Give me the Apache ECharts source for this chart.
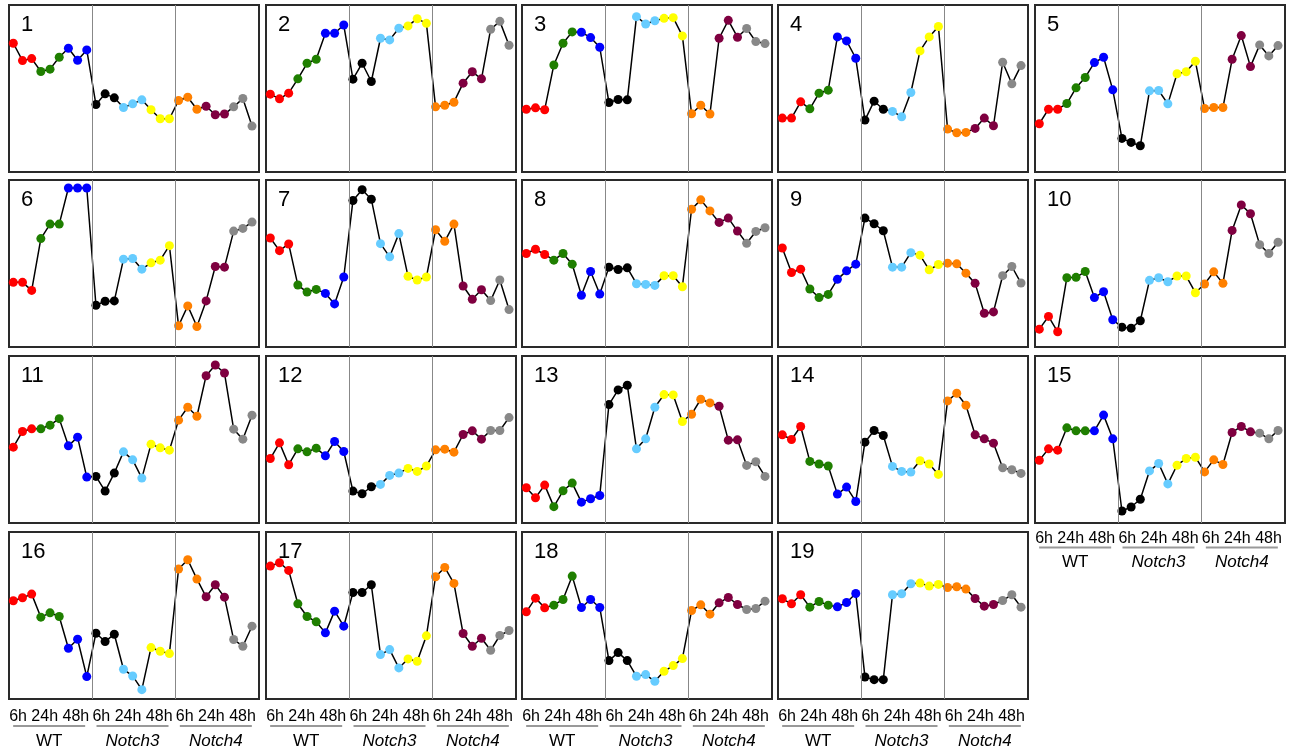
<!DOCTYPE html>
<html>
<head>
<meta charset="utf-8">
<script src="https://cdn.jsdelivr.net/npm/echarts@6/dist/echarts.min.js"></script>
<style>
html,body{margin:0;padding:0;background:#fff;}
#chart{width:1291px;height:754px;}
</style>
</head>
<body>
<div id="chart"></div>
<script>
// ---- data ----
const timepoints = ['6h', '24h', '48h'];
const groups = ['WT', 'Notch3', 'Notch4'];
const panelNames = ['1','2','3','4','5','6','7','8','9','10','11','12','13','14','15','16','17','18','19'];
// 27 values per panel: WT (red, green, blue), Notch3 (black, light blue, yellow), Notch4 (orange, maroon, gray), 3 timepoints each
const p1  = [77.1,66.7,67.9, 60.2,61.6,68.7, 74.1,66.9,73.1, 40.4,46.8,44.4, 38.6,40.8,43.2, 37.3,31.9,31.9, 42.8,44.8,37.6, 39.4,34.3,34.7, 39.0,44.0,27.5];
const p2  = [46.6,43.8,47.2, 55.8,65.1,67.5, 83.1,83.1,88.0, 55.6,65.1,54.2, 80.1,79.1,86.1, 87.5,91.8,89.0, 39.0,40.0,41.8, 53.2,60.0,55.8, 85.5,90.2,75.9];
const p3  = [37.6,38.4,37.3, 64.1,77.1,83.9, 83.7,80.5,74.7, 41.6,43.4,43.2, 93.0,88.6,90.6, 92.0,92.4,81.5, 34.9,40.0,34.7, 80.1,90.8,80.7, 85.9,78.1,76.9];
const p4  = [32.3,32.3,42.0, 37.8,47.2,49.0, 80.9,78.5,68.1, 31.1,42.4,37.6, 36.3,33.1,47.6, 72.5,80.9,87.1, 25.7,23.5,23.7, 26.1,32.3,27.7, 65.7,52.8,63.7];
const p5  = [28.9,37.6,37.6, 41.0,50.4,56.6, 65.5,68.7,49.2, 20.1,17.7,15.7, 48.6,48.8,40.8, 58.8,60.0,66.3, 38.0,38.6,38.6, 67.5,81.7,63.1, 76.1,69.5,75.7];
const p6  = [38.7,38.7,33.9, 64.9,73.6,73.6, 95.2,95.2,95.2, 25.0,27.4,27.6, 52.6,53.0,46.6, 50.4,52.0,60.7, 12.7,24.6,12.3, 27.6,48.2,47.8, 69.4,71.0,74.8];
const p7  = [65.3,57.7,61.7, 37.1,32.9,34.5, 32.1,25.8,41.9, 87.7,94.2,88.5, 61.9,54.0,67.9, 42.3,40.1,41.9, 70.2,63.3,73.6, 36.5,28.6,34.3, 27.8,40.1,22.4];
const p8  = [56.0,58.5,55.4, 52.0,56.0,49.6, 31.0,45.2,31.7, 47.8,46.4,47.4, 37.9,37.5,36.9, 42.7,42.7,36.1, 82.5,88.1,81.5, 74.6,77.2,69.4, 62.1,69.2,71.4];
const p9  = [59.3,44.6,46.6, 34.7,29.6,31.5, 40.5,45.6,49.6, 77.2,73.8,69.6, 47.8,47.8,56.5, 55.0,46.2,49.4, 50.2,49.8,44.2, 38.1,20.2,21.0, 42.7,48.2,38.3];
const p10 = [10.7,18.3,9.1, 41.5,41.7,45.2, 29.6,33.1,16.3, 11.9,11.3,15.7, 39.9,41.5,39.1, 42.5,42.5,32.5, 37.7,45.0,38.1, 69.8,85.1,79.8, 61.3,56.0,62.7];
const p11 = [45.4,54.8,56.4, 56.4,58.6,62.5, 46.2,51.4,27.5, 27.9,19.1,29.9, 42.6,37.8,26.9, 47.2,45.0,43.6, 61.6,69.3,63.9, 88.2,94.6,89.8, 56.2,50.2,64.5];
const p12 = [38.6,48.0,34.9, 44.4,42.6,44.8, 40.2,48.8,42.8, 19.1,17.5,21.7, 23.1,28.5,29.9, 32.7,30.9,34.1, 43.8,44.2,42.4, 53.0,55.2,50.2, 55.4,55.4,63.1];
const p13 = [21.1,15.1,22.7, 9.8,19.3,23.9, 12.5,14.5,16.5, 70.9,79.7,82.5, 44.4,50.4,69.3, 76.9,76.7,60.8, 65.1,74.1,71.9, 69.9,49.6,49.8, 34.5,36.7,27.9];
const p14 = [52.8,50.0,57.8, 36.9,35.3,34.1, 17.3,21.5,12.9, 48.4,55.4,52.4, 33.9,30.9,30.5, 37.3,35.3,29.1, 73.1,77.7,70.5, 52.8,50.4,47.8, 33.1,31.9,29.7];
const p15 = [37.6,44.4,43.6, 57.0,55.2,55.2, 55.2,64.6,50.4, 7.2,9.6,14.2, 31.2,35.6,23.4, 34.6,38.6,39.4, 30.6,37.8,35.0, 54.2,57.8,54.6, 53.8,50.4,55.4];
const p16 = [58.8,60.6,62.8, 49.0,51.6,49.4, 30.4,35.8,13.4, 39.4,34.4,38.8, 17.8,13.8,5.6, 30.8,28.6,27.2, 77.8,83.4,71.8, 61.2,68.4,61.0, 35.6,31.6,43.6];
const p17 = [79.6,81.6,77.0, 57.0,49.4,46.2, 39.6,52.6,43.6, 63.8,63.8,68.4, 26.6,29.6,18.6, 24.0,22.6,37.8, 73.2,78.8,69.2, 39.2,31.6,36.4, 29.2,38.0,41.0];
const p18 = [52.2,60.4,54.6, 56.2,59.6,73.6, 54.8,59.6,54.8, 23.0,27.8,23.0, 13.6,14.6,10.6, 16.6,20.0,24.2, 53.0,56.4,50.8, 57.6,60.8,56.6, 53.6,54.2,58.6];
const p19 = [60.0,57.0,62.4, 55.0,58.4,56.2, 55.2,57.8,63.2, 13.2,11.6,11.6, 62.4,63.0,69.0, 69.4,67.6,68.6, 66.8,67.2,65.8, 60.2,55.6,56.6, 59.0,62.4,55.0];
const panels = [p1,p2,p3,p4,p5,p6,p7,p8,p9,p10,p11,p12,p13,p14,p15,p16,p17,p18,p19];

// ---- styles / layout ----
const condColors = ['#ff0000','#1f7f00','#0000ff','#000000','#66ccff','#ffff00','#ff8000','#7f0040','#888888'];
const colLeft = [9, 266, 522, 778, 1035];
const rowTop = [5, 180, 356, 532];
const PW = 250, PH = 167;
const XMIN = -0.47, XMAX = 26.76;
const labelledPanels = {14: [16, 24.5, 39], 15: [17.5, 27, 42], 16: [17.5, 27, 42], 17: [17.5, 27, 42], 18: [17.5, 27, 42]};
const FONT = '"Liberation Sans", Arial, Helvetica, sans-serif';

const grids = [], xAxes = [], yAxes = [], series = [], graphics = [];
const div1 = XMIN + (XMAX - XMIN) / 3, div2 = XMIN + 2 * (XMAX - XMIN) / 3;

panels.forEach((vals, i) => {
  const left = colLeft[i % 5], top = rowTop[Math.floor(i / 5)];
  grids.push({left: left, top: top, width: PW, height: PH, show: true, borderColor: '#2a2a2a', borderWidth: 2, backgroundColor: '#fff', containLabel: false});
  xAxes.push({type: 'value', gridIndex: i, min: XMIN, max: XMAX, show: false});
  yAxes.push({type: 'value', gridIndex: i, min: 0, max: 100, show: false});
  series.push({
    type: 'line', xAxisIndex: i, yAxisIndex: i,
    data: vals.map((v, j) => [j, v]),
    symbol: 'circle', symbolSize: 9,
    lineStyle: {color: '#000', width: 1.5},
    itemStyle: {color: p => condColors[Math.floor(p.dataIndex / 3)]},
    emphasis: {disabled: true},
    z: 3,
    markLine: {
      silent: true, symbol: 'none', label: {show: false}, animation: false,
      lineStyle: {color: '#888', width: 1, type: 'solid'},
      data: [{xAxis: div1}, {xAxis: div2}]
    }
  });
  graphics.push({type: 'text', left: left + 12, top: top + 9, z: 10,
    style: {text: panelNames[i], font: '22px ' + FONT, fill: '#000'}});
  if (labelledPanels[i]) {
    const [o1, o2, o3] = labelledPanels[i];
    const bottom = top + PH;
    groups.forEach((g, k) => {
      const cx = left + (k + 0.5) * PW / 3 - 1.5;
      graphics.push({type: 'text', x: cx, y: bottom + o1, z: 10,
        style: {text: timepoints.join(' '), font: '16px ' + FONT, fill: '#000', textAlign: 'center', textVerticalAlign: 'middle'}});
      graphics.push({type: 'line', z: 10, shape: {x1: cx - 36, y1: bottom + o2, x2: cx + 36, y2: bottom + o2},
        style: {stroke: '#999', lineWidth: 2}});
      graphics.push({type: 'text', x: cx, y: bottom + o3, z: 10,
        style: {text: g, font: (k > 0 ? 'italic ' : '') + '17px ' + FONT, fill: '#000', textAlign: 'center', textVerticalAlign: 'middle'}});
    });
  }
});

const chart = echarts.init(document.getElementById('chart'), null, {renderer: 'canvas'});
chart.setOption({
  animation: false,
  backgroundColor: '#fff',
  grid: grids, xAxis: xAxes, yAxis: yAxes, series: series,
  graphic: graphics
});
</script>
</body>
</html>
